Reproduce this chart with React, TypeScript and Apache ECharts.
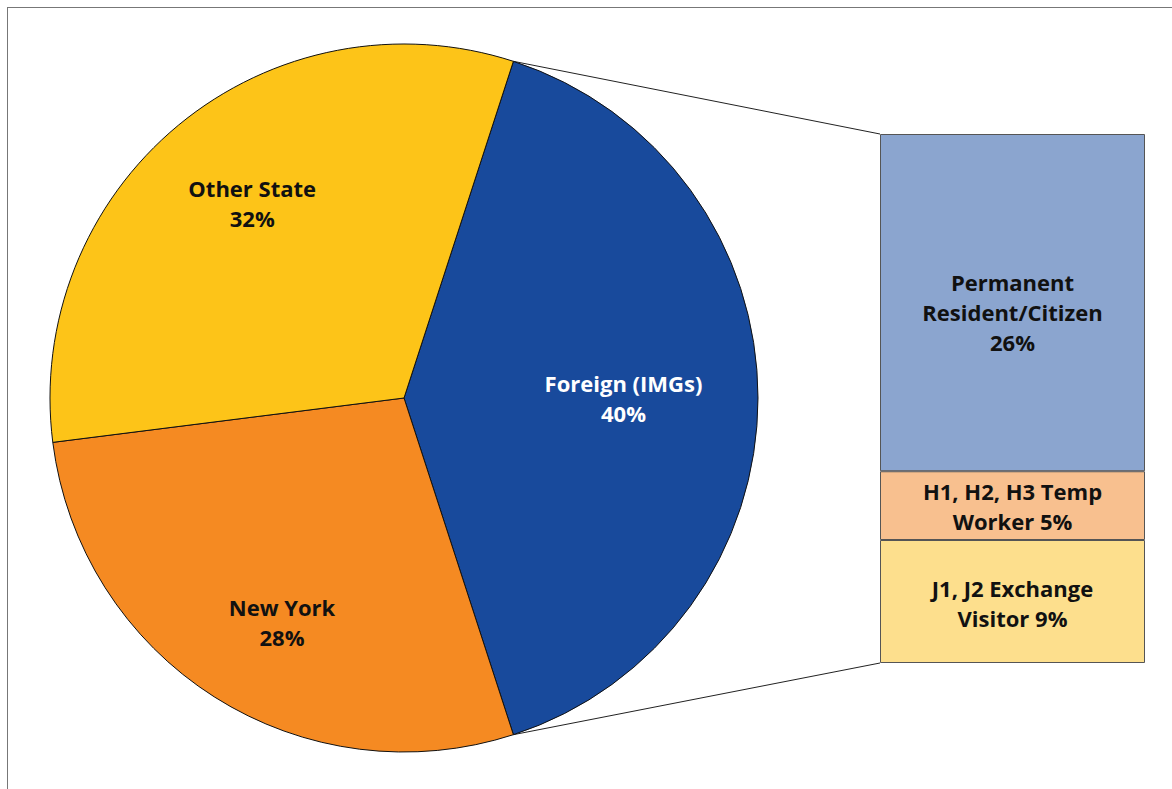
import React, { useEffect, useRef } from "react";
import * as echarts from "echarts";

const pieNames = ["Foreign (IMGs)", "New York", "Other State"];
const pieValues = [40, 28, 32];
const pieColors = ["#184A9C", "#F58A22", "#FDC418"];
const pieLabelColors = ["#FFFFFF", "#111111", "#111111"];
const pieLabelRadius = [0.62, 0.72, 0.698];
const pieLabelAngleShift = [0, 3.8, -1.7];

const barNames = ["J1, J2 Exchange\nVisitor", "H1, H2, H3 Temp\nWorker", "Permanent\nResident/Citizen"];
const barValues = [9.3, 5.2, 25.5];
const barColors = ["#FDDF8D", "#F8C08F", "#8BA5CF"];
const barLabelShift = [1, 0, 9];

const FONT = "'Open Sans', 'Noto Sans', sans-serif";

export default function App() {
  const ref = useRef<HTMLDivElement>(null);
  useEffect(() => {
    if (!ref.current) return;
    const chart = echarts.init(ref.current, undefined, { renderer: "svg" });
    const cx = 396;
    const cy = 390;
    const r = 354;
    const total = pieValues.reduce((a, b) => a + b, 0);
    const startAngle = (pieValues[0] / total) * 360 / 2;
    const mids: number[] = [];
    let acc = startAngle;
    pieValues.forEach((v) => {
      const span = (v / total) * 360;
      mids.push(acc - span / 2);
      acc -= span;
    });
    const gLeft = 872;
    const gTop = 126;
    const gW = 265;
    const gH = 529;
    const a0 = (startAngle * Math.PI) / 180;
    const p1 = [cx + r * Math.cos(a0), cy - r * Math.sin(a0)];
    const p2 = [cx + r * Math.cos(-a0), cy - r * Math.sin(-a0)];
    const barTotal = barValues.reduce((a, b) => a + b, 0);

    chart.setOption({
      animation: false,
      graphic: [
        { type: "line", shape: { x1: p1[0], y1: p1[1], x2: gLeft, y2: gTop }, style: { stroke: "#222", lineWidth: 1 } },
        { type: "line", shape: { x1: p2[0], y1: p2[1], x2: gLeft, y2: gTop + gH }, style: { stroke: "#222", lineWidth: 1 } },
      ],
      grid: { left: gLeft, top: gTop, width: gW, height: gH },
      xAxis: { type: "category", data: ["IMG"], show: false },
      yAxis: { type: "value", min: 0, max: barTotal, show: false },
      series: [
        {
          type: "pie",
          center: [cx, cy],
          radius: r,
          startAngle,
          clockwise: true,
          data: pieNames.map((n, i) => ({
            name: n,
            value: pieValues[i],
            itemStyle: { color: pieColors[i] },
            label: { color: pieLabelColors[i] },
          })),
          itemStyle: { borderColor: "#111", borderWidth: 1 },
          label: {
            position: "inside",
            formatter: (p: any) => `${p.name}\n${p.value}%`,
            fontFamily: FONT,
            fontWeight: "bold",
            fontSize: 22,
            lineHeight: 30,
            align: "center",
            verticalAlign: "middle",
          },
          labelLayout: (params: any) => {
            const i = params.dataIndex;
            const a = ((mids[i] + pieLabelAngleShift[i]) * Math.PI) / 180;
            const rr = r * pieLabelRadius[i];
            return {
              x: cx + rr * Math.cos(a),
              y: cy - rr * Math.sin(a),
              align: "center",
              verticalAlign: "middle",
            };
          },
          emphasis: { disabled: true },
          silent: true,
        },
        ...barValues.map((v, i) => ({
          type: "bar",
          name: barNames[i],
          stack: "imgs",
          barWidth: "100%",
          data: [v],
          itemStyle: { color: barColors[i], borderColor: "#555", borderWidth: 1 },
          label: {
            show: true,
            position: "inside",
            offset: [0, barLabelShift[i]],
            formatter: (p: any) => {
              const parts = barNames[i].split("\n");
              if (parts[1].length > 10) return `${barNames[i]}\n${Math.round(p.value)}%`;
              return `${barNames[i]} ${Math.round(p.value)}%`;
            },
            color: "#111",
            fontFamily: FONT,
            fontWeight: "bold",
            fontSize: 22,
            lineHeight: 30,
          },
          silent: true,
        })),
      ],
    });
    return () => chart.dispose();
  }, []);
  return (
    <div
      style={{
        position: "fixed",
        left: 7,
        top: 7,
        width: 1165,
        height: 782,
        borderTop: "1px solid #777",
        borderLeft: "1px solid #777",
        background: "#fff",
      }}
    >
      <div ref={ref} style={{ width: 1165, height: 782 }} />
    </div>
  );
}
